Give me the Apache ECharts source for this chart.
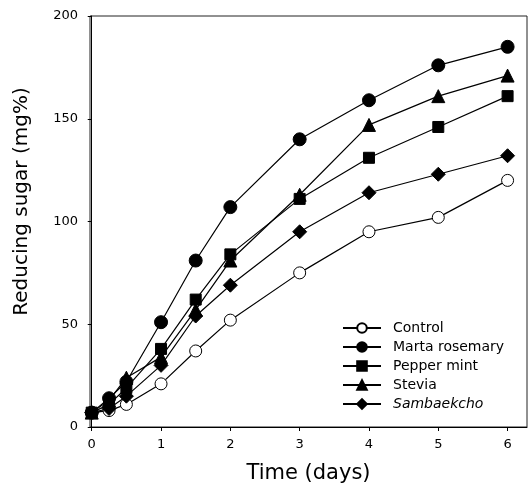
<!DOCTYPE html>
<html>
<head>
<meta charset="utf-8">
<script src="https://cdn.jsdelivr.net/npm/echarts@6/dist/echarts.min.js"></script>
<style>
  html, body { margin: 0; padding: 0; background: #fff; }
  #chart { width: 529px; height: 493px; }
</style>
</head>
<body>
<div id="chart"></div>
<script>
// time points (days)
const days = [0, 0.25, 0.5, 1, 1.5, 2, 3, 4, 5, 6]
const xTicks = [0, 1, 2, 3, 4, 5, 6]

// reducing sugar (mg%)
const control = [7, 8, 11, 21, 37, 52, 75, 95, 102, 120]
const martaRosemary = [7, 14, 22, 51, 81, 107, 140, 159, 176, 185]
const pepperMint = [7, 11, 19, 38, 62, 84, 111, 131, 146, 161]
const stevia = [7, 13, 24, 34, 57, 81, 113, 147, 161, 171]
const sambaekcho = [7, 9, 15, 30, 54, 69, 95, 114, 123, 132]

const font = 'DejaVu Sans'

function pairs(list){
  return days.map((d, i) => [d, list[i]])
}

function makeSeries(name, list, symbol, size, fill){
  return {
    name: name,
    type: 'line',
    data: pairs(list),
    symbol: symbol,
    symbolSize: size,
    showAllSymbol: true,
    lineStyle: { color: '#000', width: 1.2 },
    itemStyle: { color: fill, borderColor: '#000', borderWidth: 1 },
    emphasis: { disabled: true },
    animation: false,
    z: 3
  }
}

const myChart = echarts.init(document.getElementById('chart'))

const option = {
  animation: false,
  grid: {
    left: 90,
    right: 2,
    top: 16,
    bottom: 66,
    show: true,
    borderColor: '#222',
    borderWidth: 1
  },
  legend: {
    orient: 'vertical',
    left: 337,
    top: 316,
    itemWidth: 38,
    itemHeight: 12,
    itemGap: 5,
    formatter(name){
      return name === 'Sambaekcho' ? '{i|' + name + '}' : '{n|' + name + '}'
    },
    textStyle: {
      fontFamily: font,
      fontSize: 14,
      color: '#000',
      rich: {
        n: { fontFamily: font, fontSize: 14, color: '#000', padding: [0, 0, 0, 7], lineHeight: 16 },
        i: { fontFamily: font, fontSize: 14, color: '#000', fontStyle: 'italic', padding: [0, 0, 0, 7], lineHeight: 16 }
      }
    },
    data: ['Control', 'Marta rosemary', 'Pepper mint', 'Stevia', 'Sambaekcho']
  },
  xAxis: {
    type: 'value',
    min: -0.025,
    max: 6.28,
    name: 'Time (days)',
    nameLocation: 'middle',
    nameGap: 36,
    nameTextStyle: { fontFamily: font, fontSize: 21, color: '#000' },
    axisLine: { show: true, lineStyle: { color: '#000', width: 1 } },
    axisTick: { show: true, inside: false, length: 4, customValues: xTicks, lineStyle: { color: '#000' } },
    axisLabel: { customValues: xTicks, margin: 11, fontFamily: font, fontSize: 13, color: '#000' },
    splitLine: { show: false }
  },
  yAxis: {
    type: 'value',
    min: 0,
    max: 200,
    interval: 50,
    name: 'Reducing sugar (mg%)',
    nameLocation: 'middle',
    nameGap: 58,
    nameTextStyle: { fontFamily: font, fontSize: 20, color: '#000', padding: [0, 0, 0, 40] },
    axisLine: { show: true, lineStyle: { color: '#000', width: 1 } },
    axisTick: { show: true, inside: false, length: 4, lineStyle: { color: '#000' } },
    axisLabel: { margin: 12, fontFamily: font, fontSize: 13, color: '#000' },
    splitLine: { show: false }
  },
  series: [
    makeSeries('Control', control, 'circle', 12, '#fff'),
    makeSeries('Marta rosemary', martaRosemary, 'circle', 13, '#000'),
    makeSeries('Pepper mint', pepperMint, 'rect', 11, '#000'),
    makeSeries('Stevia', stevia, 'triangle', 13, '#000'),
    makeSeries('Sambaekcho', sambaekcho, 'diamond', 14, '#000')
  ]
}

myChart.setOption(option)
</script>
</body>
</html>
